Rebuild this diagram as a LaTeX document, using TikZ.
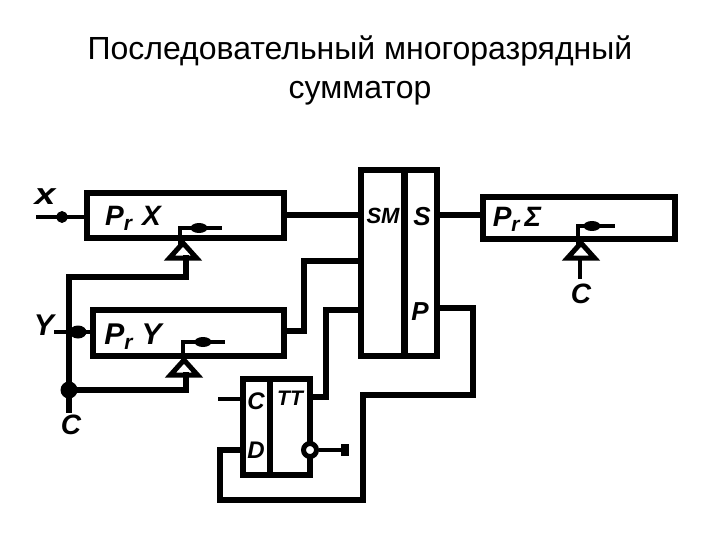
\documentclass[tikz,border=0pt]{standalone}
\usepackage{fontspec}
\setmainfont{Liberation Sans}
\usetikzlibrary{shapes.geometric,calc}
\newcommand{\lbl}[1]{\bfseries\itshape\fontsize{#1}{#1}\selectfont}
\newcommand{\subr}{\raisebox{-5pt}{\fontsize{21}{21}\selectfont r}}
\tikzset{
  x=1pt,y=-1pt,
  wire/.style={line width=6pt,line cap=rect,line join=miter},
  inwire/.style={line width=4.5pt,line cap=rect},
  block/.style={draw,line width=5.5pt,inner sep=0pt,outer sep=0pt},
  ltext/.style={inner sep=0pt},
  tri/.style={isosceles triangle,isosceles triangle stretches,shape border rotate=90,anchor=apex,draw,line width=5pt,minimum width=27pt,minimum height=15pt,inner sep=0pt,outer sep=0pt},
  dotn/.style={circle,fill,minimum size=17pt,inner sep=0pt},
  headn/.style={ellipse,fill,minimum width=17pt,minimum height=10pt,inner sep=0pt},
  title/.style={font=\fontsize{32}{36}\selectfont,inner sep=0pt}
}
\begin{document}
\begin{tikzpicture}
\useasboundingbox (0,0) rectangle (720,540);
\node[title] (t1) at (360,51) {Последовательный многоразрядный};
\node[title] (t2) at (360,93) {сумматор};
% blocks
\node[block,minimum width=197pt,minimum height=45pt] (rx) at (185.5,215.5) {};
\node[block,minimum width=191pt,minimum height=46pt] (ry) at (188.5,333) {};
\node[block,minimum width=76pt,minimum height=186pt] (sm) at (399,263) {};
\node[block,minimum width=192pt,minimum height=42pt] (rs) at (579,218) {};
\node[block,minimum width=67pt,minimum height=96pt] (tt) at (276.5,427) {};
\coordinate (smdt) at (404,168);
\coordinate (smdb) at (404,356);
\coordinate (ttdt) at (270,379);
\coordinate (ttdb) at (270,475);
\draw[wire,line width=7pt,line cap=butt] (smdt) -- (smdb);
\draw[wire,line cap=butt] (ttdt) -- (ttdb);
% triangles
\node[tri] (trx) at (183,243) {};
\node[tri] (try) at (184,360) {};
\node[tri] (trs) at (581,243) {};
% stems, arrows inside registers
\coordinate (ax0) at (180,228); \coordinate (ax1) at (220,228);
\coordinate (ay0) at (183,342); \coordinate (ay1) at (223,342);
\coordinate (as0) at (578,226); \coordinate (as1) at (613,226);
\draw[inwire] (trx.apex) -- (ax0 |- trx.apex) -- (ax0) -- (ax1);
\draw[inwire] (try.apex) -- (ay0 |- try.apex) -- (ay0) -- (ay1);
\draw[inwire] (trs.apex) -- (as0 |- trs.apex) -- (as0) -- (as1);
\node[headn] (hx) at (199,228) {};
\node[headn] (hy) at (203,342) {};
\node[headn] (hs) at (592,226) {};
% clock bus
\coordinate (cbus) at (69,390);
\coordinate (cx) at (69,277);
\coordinate (tx) at (186,277);
\coordinate (ty) at (186,390);
\coordinate (cend) at (69,410);
\coordinate (cs) at (580,277);
\node[dotn] (cdot) at (cbus) {};
\draw[wire] (cend) -- (cdot.center) -- (cx) -- (tx) -- (tx |- trx.lower side);
\draw[wire] (cdot.center) -- (ty) -- (ty |- try.lower side);
\draw[inwire] (cs) -- (cs |- trs.lower side);
% inputs
\coordinate (xin) at (38,217);
\coordinate (yin) at (56,332);
\coordinate (cin) at (220,399);
\draw[inwire] (xin) -- (xin -| rx.west);
\draw[inwire] (yin) -- (yin -| ry.west);
\node[headn,minimum width=11pt,minimum height=12pt] (hxi) at (62,217) {};
\node[headn,minimum height=13pt] (hyi) at (78,332) {};
\draw[inwire] (cin) -- (cin -| tt.west);
% register to adder
\draw[wire] (rx.east |- 0,215) -- (sm.west |- 0,215);
\coordinate (ry1) at (304,331);
\coordinate (ry2) at (304,261);
\draw[wire] (ry.east |- ry1) -- (ry1) -- (ry2) -- (sm.west |- ry2);
\draw[wire] (sm.east |- 0,215) -- (rs.west |- 0,215);
% TT to adder
\coordinate (tq1) at (326,397);
\coordinate (tq2) at (326,310);
\draw[wire] (tt.east |- tq1) -- (tq1) -- (tq2) -- (sm.west |- tq2);
% carry loop
\coordinate (p1) at (473,308);
\coordinate (p2) at (473,395);
\coordinate (p3) at (363,395);
\coordinate (p4) at (363,500);
\coordinate (p5) at (220,500);
\coordinate (p6) at (220,450);
\draw[wire] (sm.east |- p1) -- (p1) -- (p2) -- (p3) -- (p4) -- (p5) -- (p6) -- (tt.west |- p6);
% inverse output
\node[circle,draw,line width=5pt,fill=white,minimum size=13pt,inner sep=0pt] (inv) at (310,450) {};
\coordinate (qout) at (348,450);
\draw[inwire,line cap=butt] (inv) -- (qout);
\node[fill,minimum width=8pt,minimum height=12pt,inner sep=0pt] (hq) at (345,450) {};
% labels
\node[ltext] (lx) at (45,197) {\lbl{30}\scalebox{1.25}[1]{x}};
\node[ltext] (ly) at (44,325) {\lbl{30}Y};
\node[ltext] (lc) at (71,425) {\lbl{28}C};
\node[ltext] (lcs) at (581,294) {\lbl{28}C};
\node[ltext] (lrx) at (133,218) {\lbl{28}P\subr\hspace{10pt}X};
\node[ltext] (lry) at (133,337) {\lbl{30}P\subr\hspace{9pt}Y};
\node[ltext] (lrs) at (517,219) {\lbl{28}P\subr\hspace{5pt}Σ};
\node[ltext] (lsm) at (383,216) {\lbl{22}SM};
\node[ltext] (ls) at (422,217) {\lbl{26}S};
\node[ltext] (lp) at (420,312) {\lbl{26}P};
\node[ltext] (ltc) at (256,401) {\lbl{24}C};
\node[ltext] (ltt) at (290,398) {\lbl{21}TT};
\node[ltext] (ltd) at (256,450) {\lbl{24}D};
\end{tikzpicture}
\end{document}
